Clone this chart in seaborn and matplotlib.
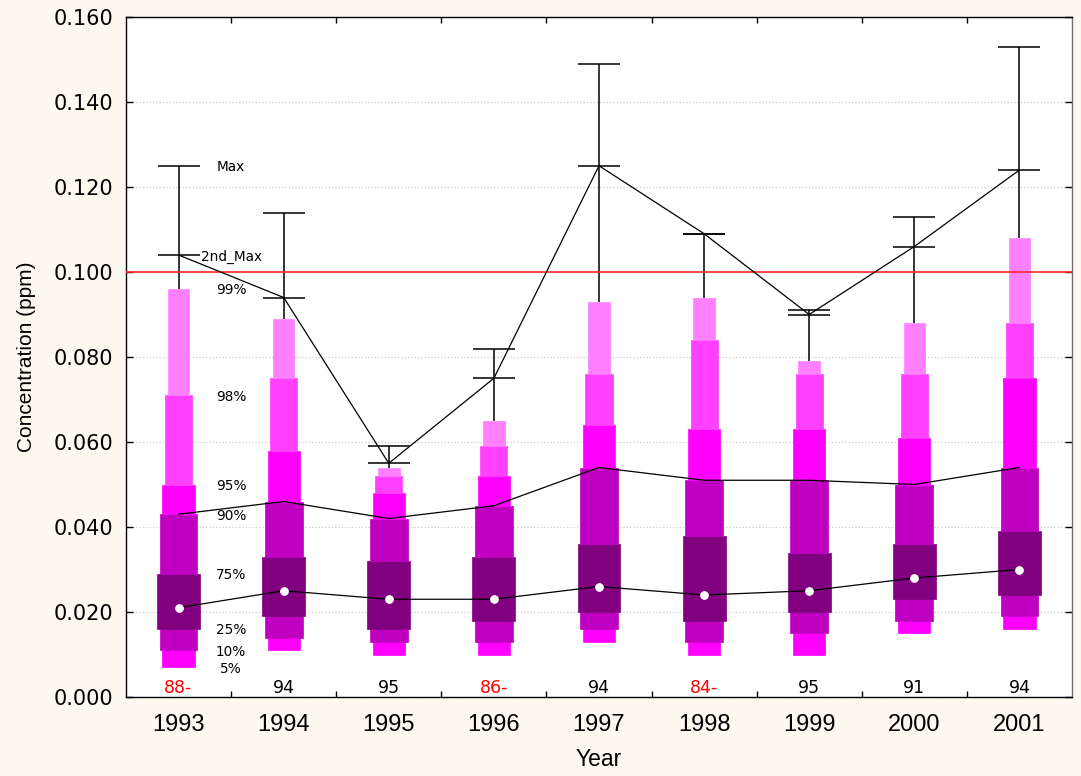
import numpy as np
import matplotlib
matplotlib.use("Agg")
import matplotlib.pyplot as plt
from matplotlib.ticker import MultipleLocator, FixedLocator, FormatStrFormatter
import seaborn as sns

# Yearly ozone concentration distribution (ppm)
years = ["1993", "1994", "1995", "1996", "1997", "1998", "1999", "2000", "2001"]
p5 = [0.007, 0.011, 0.010, 0.010, 0.013, 0.010, 0.010, 0.015, 0.016]
p10 = [0.011, 0.014, 0.013, 0.013, 0.016, 0.013, 0.015, 0.018, 0.019]
p25 = [0.016, 0.019, 0.016, 0.018, 0.020, 0.018, 0.020, 0.023, 0.024]
p50 = [0.021, 0.025, 0.023, 0.023, 0.026, 0.024, 0.025, 0.028, 0.030]
p75 = [0.029, 0.033, 0.032, 0.033, 0.036, 0.038, 0.034, 0.036, 0.039]
p90 = [0.043, 0.046, 0.042, 0.045, 0.054, 0.051, 0.051, 0.050, 0.054]
p95 = [0.050, 0.058, 0.048, 0.052, 0.064, 0.063, 0.063, 0.061, 0.075]
p98 = [0.071, 0.075, 0.052, 0.059, 0.076, 0.084, 0.076, 0.076, 0.088]
p99 = [0.096, 0.089, 0.054, 0.065, 0.093, 0.094, 0.079, 0.088, 0.108]
second_max = [0.104, 0.094, 0.055, 0.075, 0.125, 0.109, 0.090, 0.106, 0.124]
max_vals = [0.125, 0.114, 0.059, 0.082, 0.149, 0.109, 0.091, 0.113, 0.153]

# Data completeness per year (%); a trailing "-" marks an incomplete year
counts = ["88-", "94", "95", "86-", "94", "84-", "95", "91", "94"]
standard = 0.100

sns.set_theme(style="white")
plt.rcParams["font.family"] = ["DejaVu Sans"]
plt.rcParams.update({"text.color": "black", "axes.labelcolor": "black",
                     "xtick.color": "black", "ytick.color": "black"})

fig = plt.figure(figsize=(10.81, 7.76), dpi=100, facecolor="#FDF9EF")
ax = fig.add_axes([126 / 1081, 79 / 776, 946 / 1081, 680 / 776])
ax.set_facecolor("white")

pos = np.arange(len(years))

# Nested percentile bands: (lower, upper, colour, relative width)
bands = [
    (p5, p10, "#FF00FF", 0.307),
    (p10, p25, "#C000C0", 0.359),
    (p25, p75, "#800080", 0.409),
    (p75, p90, "#C000C0", 0.359),
    (p90, p95, "#FF00FF", 0.307),
    (p95, p98, "#FF40FF", 0.257),
    (p98, p99, "#FF80FF", 0.206),
]
for lo, hi, col, w in bands:
    lo = np.asarray(lo)
    hi = np.asarray(hi)
    sns.barplot(x=years, y=hi - lo, bottom=lo, order=years, color=col,
                saturation=1, width=w, errorbar=None, linewidth=0.5,
                edgecolor=col, ax=ax, zorder=2)

# Whiskers from the 99th percentile to the maximum, with caps at 2nd max and max
cap = 0.2
ax.vlines(pos, p99, max_vals, colors="black", lw=1.1, zorder=3)
ax.hlines(max_vals, pos - cap, pos + cap, colors="black", lw=1.1, zorder=3)
ax.hlines(second_max, pos - cap, pos + cap, colors="black", lw=1.1, zorder=3)

# Standard line
ax.axhline(standard, color="#FF2A2A", lw=1.2, zorder=3)

# Trend lines through 2nd max, 90th percentile and median
sns.lineplot(x=pos, y=second_max, color="black", lw=0.9, ax=ax, zorder=4)
sns.lineplot(x=pos, y=p90, color="black", lw=0.9, ax=ax, zorder=4)
sns.lineplot(x=pos, y=p50, color="black", lw=0.9, marker="o", markersize=5.5,
             markerfacecolor="white", markeredgecolor="white", ax=ax, zorder=5)

# Legend-style labels beside the first year
label_names = ["Max", "2nd_Max", "99%", "98%", "95%", "90%", "75%", "25%", "10%", "5%"]
label_vals = [max_vals[0], second_max[0], p99[0], p98[0], p95[0], p90[0],
              p75[0], p25[0], p10[0], p5[0]]
for name, v in zip(label_names, label_vals):
    ax.text(pos[0] + 0.5, v, name, ha="center", va="center_baseline",
            fontsize=9.8, family="DejaVu Sans", zorder=6)

# Completeness labels along the bottom
for x, c in zip(pos, counts):
    ax.text(x, 0.0009, c, ha="center", va="baseline", fontsize=12.5,
            family="DejaVu Sans", color="#FF0000" if c.endswith("-") else "black",
            zorder=6)

ax.set_xlim(-0.5, len(years) - 0.5)
ax.set_ylim(0, 0.16)
ax.yaxis.set_major_locator(MultipleLocator(0.02))
ax.yaxis.set_major_formatter(FormatStrFormatter("%.3f"))
ax.tick_params(axis="y", which="major", direction="in", length=5, width=1,
               left=True, right=True, labelsize=15, pad=9)
for t in ax.get_yticklabels():
    t.set_family("DejaVu Sans")

ax.set_xticks(pos)
ax.set_xticklabels(years, fontsize=17, family="Liberation Sans")
ax.xaxis.set_minor_locator(FixedLocator(pos[:-1] + 0.5))
ax.tick_params(axis="x", which="major", length=0, pad=12)
ax.tick_params(axis="x", which="minor", direction="in", length=4, width=1,
               top=True, bottom=True)

ax.grid(False)
ax.yaxis.grid(True, color="#CCCCCC", ls=":", lw=0.9)
ax.set_axisbelow(True)

for side in ["left", "top", "bottom"]:
    ax.spines[side].set_color("black")
    ax.spines[side].set_linewidth(1)
ax.spines["right"].set_color("#707070")
ax.spines["right"].set_linewidth(1)

ax.set_xlabel("Year", fontsize=16.5, family="Liberation Sans", va="center")
ax.xaxis.set_label_coords(0.5, (697 - 759) / 680)
ax.set_ylabel("Concentration (ppm)", fontsize=15, family="Liberation Sans", va="center")
ax.yaxis.set_label_coords((27 - 126) / 946, 0.5)

fig.savefig("out.png", dpi=100, facecolor=fig.get_facecolor())
